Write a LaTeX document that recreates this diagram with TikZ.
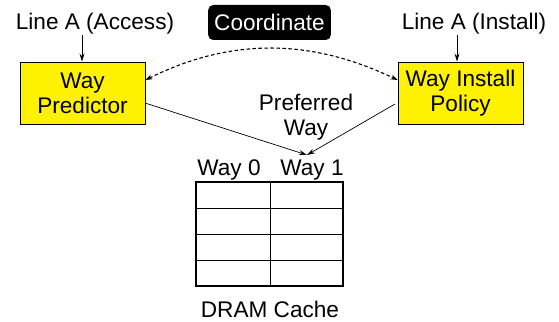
\documentclass[tikz,border=0pt]{standalone}
\usepackage{fontspec}
\setmainfont{Liberation Sans}
\usetikzlibrary{arrows.meta}
\begin{document}
\begin{tikzpicture}[x=1pt,y=-1pt,
  every node/.style={font=\fontsize{22.6}{25}\selectfont, inner sep=0pt},
  unit/.style={draw=black, line width=0.9pt, fill=yellow, minimum width=125pt, minimum height=62pt, align=center},
  feed/.style={line width=0.7pt, -{Stealth[length=8pt,width=5pt]}},
  coord/.style={line width=1.1pt, dash pattern=on 3.5pt off 2.5pt, {Stealth[open,length=7pt,width=5pt]}-{Stealth[open,length=7pt,width=5pt]}},
  grid/.style={line width=0.8pt}]
\useasboundingbox (0,0) rectangle (559,321);

% processing units
\node[unit] (pred) at (82.5,93) {Way\\Predictor};
\node[unit] (inst) at (460.5,93) {Way Install\\Policy};

% incoming lines
\node (acc) at (95,24) {Line A (Access)};
\node (ins) at (474,24) {Line A (Install)};
\draw[feed] (82,35) -- (pred.north -| 82,0);
\draw[feed] (457,35) -- (inst.north -| 457,0);

% coordination label
\node[fill=black, text=white, rounded corners=5pt, inner xsep=6pt, minimum height=35pt] (co) at (269.5,22.5) {Coordinate};
\draw[coord] (pred.east |- 0,80) .. controls (230,38) and (310,38) .. (inst.west |- 0,80);

% preferred way
\node (pw) at (306,117.5) [align=center] {Preferred\\Way};
\coordinate (tip) at (307,155);
\draw[feed] (145,103) -- (tip);
\draw[feed] (395,104) -- (tip);

% DRAM cache array
\node (w0) at (229,170) {Way 0};
\node (w1) at (312,170) {Way 1};
\foreach \r in {208,234,260} \draw[grid] (196,\r) -- (343,\r);
\draw[grid] (270,182) -- (270,286);
\draw[line width=1.8pt] (196,182) rectangle (343,286);
\node (dc) at (270,309) {DRAM Cache};
\end{tikzpicture}
\end{document}
